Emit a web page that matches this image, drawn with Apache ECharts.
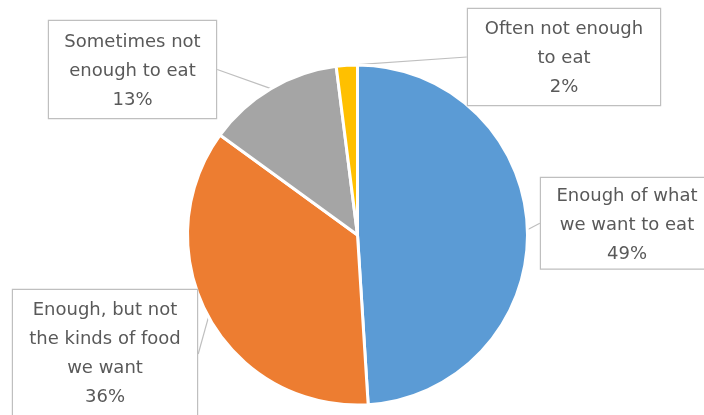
<!DOCTYPE html>
<html>
<head>
<meta charset="utf-8">
<script src="https://cdn.jsdelivr.net/npm/echarts@6/dist/echarts.min.js"></script>
<style>
html,body{margin:0;padding:0;background:#fff;}
#chart{width:704px;height:415px;}
</style>
</head>
<body>
<div id="chart"></div>
<script>
// Data
const categories = ['Enough of what\nwe want to eat', 'Enough, but not\nthe kinds of food\nwe want', 'Sometimes not\nenough to eat', 'Often not enough\nto eat'];
const values = [49, 36, 13, 2];
const colors = ['#5B9BD5', '#ED7D31', '#A5A5A5', '#FFC000'];

// Layout of callout boxes: [left, top, width, height, paddingTop]
const labelBoxes = [[541, 178, 172, 89, 3.5], [13, 290, 184, 128, 5.5], [49, 21, 167, 97, 6.5], [468, 9, 192, 96, 5.5]];
const LH = 29;

const chart = echarts.init(document.getElementById('chart'));
const data = categories.map((c, i) => {
  const nLines = c.split('\n').length + 1;
  const b = labelBoxes[i];
  const padT = b[4];
  const padB = Math.max(0, b[3] - nLines * LH - padT);
  return {
    name: c,
    value: values[i],
    itemStyle: { color: colors[i] },
    label: { width: b[2], padding: [padT, 0, padB, 0] }
  };
});

chart.setOption({
  backgroundColor: '#fff',
  animation: false,
  series: [{
    type: 'pie',
    center: [357.5, 235],
    radius: 170,
    startAngle: 90,
    clockwise: true,
    avoidLabelOverlap: false,
    percentPrecision: 0,
    data: data,
    itemStyle: { borderColor: '#fff', borderWidth: 3 },
    label: {
      show: true,
      position: 'outside',
      formatter: '{b}\n{d}%',
      fontFamily: 'DejaVu Sans',
      fontSize: 18,
      lineHeight: LH,
      color: '#595959',
      align: 'center',
      backgroundColor: '#fff',
      borderColor: '#BFBFBF',
      borderWidth: 1.2
    },
    labelLine: {
      show: true,
      length: 8,
      length2: 0,
      smooth: false,
      lineStyle: { color: '#BFBFBF', width: 1.2 }
    },
    labelLayout: function (params) {
      const b = labelBoxes[params.dataIndex];
      return { x: b[0] + b[2] / 2, y: b[1], align: 'center', verticalAlign: 'top' };
    }
  }]
});
</script>
</body>
</html>
